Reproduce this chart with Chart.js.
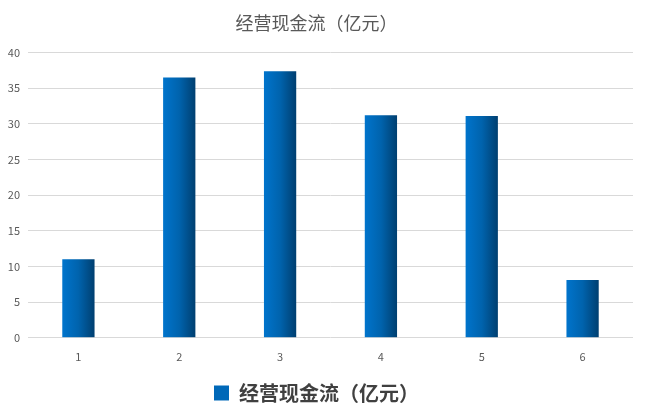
<!DOCTYPE html>
<html>
<head>
<meta charset="utf-8">
<script src="https://cdn.jsdelivr.net/npm/chart.js@4/dist/chart.umd.min.js"></script>
<style>
  html, body { margin: 0; padding: 0; background: #fff; }
  #wrap { width: 647px; height: 416px; }
</style>
</head>
<body>
<div id="wrap"><canvas id="cashChart"></canvas></div>
<script>
// chart data
const categories = ["1", "2", "3", "4", "5", "6"]
const cashFlow = [11, 36.5, 37.4, 31.2, 31.1, 8.1]
const seriesName = "经营现金流（亿元）"
const yTicks = [0, 5, 10, 15, 20, 25, 30, 35, 40]

const BAR_PCT = 0.32
const fontStack = "'Noto Sans CJK SC', 'Noto Sans', sans-serif"

// horizontal gradient across each bar, light blue -> dark blue
const barGradient = (context) => {
  const chart = context.chart
  const xs = chart.scales.x
  if (!chart.chartArea || !xs || context.dataIndex === undefined) return "#0068b8"
  const cx = xs.getPixelForValue(context.dataIndex)
  const w = (xs.width / categories.length) * BAR_PCT
  const g = chart.ctx.createLinearGradient(cx - w / 2, 0, cx + w / 2, 0)
  g.addColorStop(0, "#0074cc")
  g.addColorStop(0.5, "#0063ad")
  g.addColorStop(1, "#003f70")
  return g
}

const canvas = document.getElementById("cashChart")
new Chart(canvas.getContext("2d"), {
  type: "bar",
  data: {
    labels: categories,
    datasets: [{
      label: seriesName,
      data: cashFlow,
      backgroundColor: barGradient,
      borderWidth: 0,
      categoryPercentage: 1,
      barPercentage: BAR_PCT,
    }],
  },
  options: {
    responsive: true,
    maintainAspectRatio: false,
    animation: false,
    devicePixelRatio: 1,
    layout: { padding: { left: 0, right: 14, top: 8, bottom: 3 } },
    scales: {
      x: {
        grid: { display: false },
        border: { display: false },
        ticks: { color: "#595959", font: { family: fontStack, size: 11 }, padding: 4 },
      },
      y: {
        min: 0,
        max: 40,
        afterBuildTicks: (axis) => { axis.ticks = yTicks.map((v) => ({ value: v })) },
        afterFit: (axis) => { axis.width = 28 },
        grid: { color: "#d9d9d9", drawTicks: false },
        border: { display: false },
        ticks: { color: "#595959", font: { family: fontStack, size: 11 }, padding: 8 },
      },
    },
    plugins: {
      title: {
        display: true,
        text: seriesName,
        color: "#595959",
        font: { family: fontStack, size: 18, weight: "normal" },
        padding: { top: 4, bottom: 19 },
      },
      legend: {
        display: true,
        position: "bottom",
        labels: {
          color: "#404040",
          font: { family: fontStack, size: 20, weight: "bold" },
          boxWidth: 15,
          boxHeight: 15,
          padding: 16,
          generateLabels: (chart) => [{
            text: seriesName,
            fillStyle: "#0068b8",
            strokeStyle: "#0068b8",
            lineWidth: 0,
            fontColor: "#404040",
            datasetIndex: 0,
            hidden: !chart.isDatasetVisible(0),
          }],
        },
      },
      tooltip: { enabled: false },
    },
  },
})
</script>
</body>
</html>
